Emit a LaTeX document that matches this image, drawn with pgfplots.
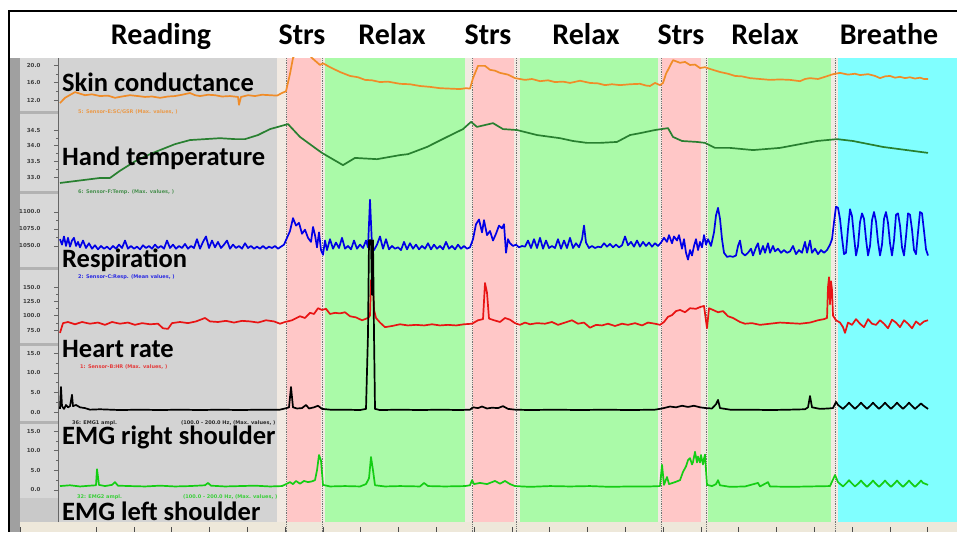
\documentclass[border=0pt]{standalone}
\usepackage{pgfplots}
\pgfplotsset{compat=1.18}
\usepackage{fontspec}
\setmainfont{Carlito}
\newfontfamily\dejavu{DejaVu Sans}

\definecolor{readgray}{RGB}{211,211,211}
\definecolor{strspink}{RGB}{255,199,199}
\definecolor{relaxgreen}{RGB}{170,250,168}
\definecolor{breathecyan}{RGB}{128,255,255}
\definecolor{gapbeige}{RGB}{242,234,226}
\definecolor{stripbeige}{RGB}{238,232,218}
\definecolor{panelgray}{RGB}{216,216,216}
\definecolor{darkstrip}{RGB}{160,160,160}
\definecolor{sepgray}{RGB}{178,178,178}
\definecolor{scorange}{RGB}{240,140,40}
\definecolor{tempgreen}{RGB}{40,128,48}
\definecolor{respblue}{RGB}{0,0,230}
\definecolor{hrred}{RGB}{232,20,20}
\definecolor{emggreen}{RGB}{20,205,20}

\pgfplotsset{
  panel/.style n args={4}{
    at={(58pt,-#1pt)}, anchor=north west, scale only axis,
    width=899pt, height=#2pt, xmin=58, xmax=957, ymin=#3, ymax=#4,
    axis x line=none, axis y line*=left,
    y axis line style={draw=black!60, line width=0.6pt},
    tick align=outside, major tick length=4pt, minor tick length=2pt,
    minor y tick num=1, ytick style={draw=black!60, line width=0.5pt},
    /pgf/number format/assume math mode=true,
    yticklabel style={font=\dejavu\bfseries\fontsize{5.5}{6}\selectfont,
      text=black!75, xshift=-10pt,
      /pgf/number format/.cd, fixed, fixed zerofill, precision=1, 1000 sep={}},
    no markers,
    every axis plot/.append style={line width=1.7pt, line join=round},
  },
}

\begin{document}
\begin{tikzpicture}[x=1pt,y=1pt]
\useasboundingbox (0,0) rectangle (957,-532);

% frame, background regions and separators, in pixel units
\begin{axis}[at={(0pt,0pt)}, anchor=north west, scale only axis,
  width=957pt, height=532pt, xmin=0, xmax=957, ymin=0, ymax=532,
  y dir=reverse, hide axis, clip=false]
\addplot[fill=white, draw=none] coordinates {(0,0) (957,0) (957,532) (0,532)};
\addplot[fill=gapbeige, draw=none] coordinates {(58,58) (957,58) (957,522) (58,522)};
\addplot[fill=readgray, draw=none] coordinates {(58,58) (277,58) (277,522) (58,522)};
\addplot[fill=strspink, draw=none] coordinates {(287,58) (321,58) (321,522) (287,522)};
\addplot[fill=relaxgreen, draw=none] coordinates {(325,58) (465,58) (465,522) (325,522)};
\addplot[fill=strspink, draw=none] coordinates {(473,58) (514,58) (514,522) (473,522)};
\addplot[fill=relaxgreen, draw=none] coordinates {(520,58) (658,58) (658,522) (520,522)};
\addplot[fill=strspink, draw=none] coordinates {(662,58) (701,58) (701,522) (662,522)};
\addplot[fill=relaxgreen, draw=none] coordinates {(708,58) (831,58) (831,522) (708,522)};
\addplot[fill=breathecyan, draw=none] coordinates {(838,58) (957,58) (957,522) (838,522)};
\addplot[fill=stripbeige, draw=none] coordinates {(10,522) (957,522) (957,532) (10,532)};
\addplot[fill=panelgray, draw=none] coordinates {(10,58) (58,58) (58,522) (10,522)};
\addplot[fill=darkstrip, draw=none] coordinates {(10,58) (20,58) (20,532) (10,532)};
\addplot[fill=sepgray!70, draw=none] coordinates {(20,498) (58,498) (58,522) (20,522)};
\pgfplotsinvokeforeach{112,192,268,344,422}{
  \addplot[sepgray, line width=3pt] coordinates {(20,#1) (58,#1)};
}
\pgfplotsinvokeforeach{286,322,472,516,661,706,835}{
  \addplot[black!55, densely dotted, line width=0.8pt] coordinates {(#1,58) (#1,532)};
}
\pgfplotsinvokeforeach{20,96,134,171,209,247,285,323,360,398,436,474,512,549,587,625,663,701,738,776,814,852,890,927}{
  \addplot[black!70, line width=0.6pt] coordinates {(#1,527) (#1,532)};
}
\addplot[black!60, line width=0.7pt] coordinates {(58,58) (58,522)};
\addplot[black, line width=2pt] coordinates {(8,11) (957,11)};
\addplot[black, line width=2.5pt] coordinates {(9,10) (9,532)};
\end{axis}

% Skin conductance
\begin{axis}[panel={58}{55}{9.03}{21.6}, ytick={12,16,20}]
\addplot[scorange] coordinates {
(60,11.3) (65,12.5) (75,13.8) (85,13.1) (92,13.3) (100,12.9) (108,13.0) (115,12.5)
(122,12.8) (130,13.1) (138,12.9) (145,12.7) (152,12.8) (160,12.5) (168,12.8) (175,12.9)
(182,13.2) (190,13.6) (195,13.1) (200,12.9) (208,13.2) (215,13.1) (222,12.8) (230,12.9)
(238,12.7) (239,10.9) (241,12.7) (248,13.1) (255,12.9) (262,13.2) (270,13.1) (277,13.0)
(282,13.6) (286,14.0) (290,18.0) (293,21.6) (298,23.5) (305,23.5) (312,21.6) (316,20.8)
(320,20.0) (323,20.4) (330,19.5) (340,18.4) (350,17.5) (358,17.2) (365,16.6) (372,16.5)
(380,16.1) (388,16.2) (400,15.7) (410,15.6) (420,15.2) (430,15.0) (440,14.7) (450,14.6)
(460,14.5) (466,14.7) (470,14.6) (473,17.0) (478,19.8) (485,19.8) (490,18.9) (495,18.7)
(500,18.2) (508,17.8) (515,17.0) (525,16.6) (532,16.8) (540,16.3) (548,16.5) (555,16.1)
(563,16.2) (570,15.9) (580,16.4) (590,15.9) (598,15.8) (605,15.4) (612,15.6) (620,15.4)
(630,15.6) (640,15.7) (646,15.3) (650,15.2) (655,15.9) (660,15.4) (663,15.9) (666,18.0)
(673,21.1) (680,20.5) (685,20.7) (690,20.0) (695,20.1) (700,19.3) (705,19.5) (710,19.1)
(720,18.4) (728,18.0) (735,17.5) (742,17.4) (750,17.0) (760,16.8) (770,16.6) (780,16.7)
(790,16.6) (800,16.3) (805,16.8) (810,17.0) (818,16.8) (825,17.3) (833,17.9) (840,18.2)
(848,17.8) (855,18.0) (860,17.7) (868,17.9) (875,17.5) (880,17.0) (885,17.4) (890,17.5)
(895,17.1) (900,17.3) (905,17.0) (910,17.2) (915,16.9) (920,17.1) (924,16.8) (928,16.8)};
\end{axis}

% Hand temperature
\begin{axis}[panel={115}{78}{32.49}{34.98}, ytick={33,33.5,34,34.5}]
\addplot[tempgreen] coordinates {
(60,32.81) (75,32.87) (90,32.93) (100,32.97) (110,32.97) (120,33.20) (135,33.50)
(150,33.73) (160,33.86) (175,34.05) (190,34.18) (205,34.21) (220,34.24) (235,34.21)
(245,34.21) (258,34.34) (270,34.53) (288,34.69) (300,34.28) (315,33.93) (322,33.77)
(330,33.62) (343,33.38) (355,33.61) (377,33.57) (400,33.70) (408,33.73) (427,33.96)
(447,34.28) (463,34.53) (471,34.76) (477,34.60) (493,34.72) (503,34.53) (517,34.50)
(537,34.34) (560,34.24) (573,34.15) (587,34.09) (600,34.09) (617,34.12) (630,34.34)
(640,34.40) (655,34.50) (668,34.56) (673,34.28) (682,34.15) (697,34.12) (705,34.09)
(715,33.93) (730,33.93) (753,33.86) (780,33.93) (800,34.05) (817,34.15) (837,34.21)
(853,34.15) (883,33.96) (928,33.77)};
\end{axis}

% Respiration
\begin{axis}[panel={195}{73}{1017.6}{1125}, ytick={1050,1075,1100}]
\addplot[respblue] coordinates {
(60,1060) (62,1052) (64,1064) (66,1050) (68,1062) (70,1049) (72,1058) (74,1062) (76,1050)
(78,1056) (80,1048) (83,1058) (86,1047) (89,1054) (92,1046) (95,1051) (98,1045) (101,1050)
(104,1046) (107,1049) (110,1045) (113,1050) (116,1046) (119,1052) (122,1047) (125,1058)
(128,1046) (131,1050) (134,1046) (137,1049) (140,1045) (143,1051) (146,1047) (149,1050)
(152,1046) (155,1052) (158,1047) (161,1050) (164,1046) (167,1058) (170,1047) (173,1052)
(176,1046) (179,1050) (182,1047) (185,1053) (188,1046) (191,1050) (194,1047) (197,1060)
(200,1046) (203,1056) (206,1064) (209,1047) (212,1058) (215,1048) (218,1056) (221,1047)
(224,1052) (227,1058) (230,1046) (233,1052) (236,1047) (239,1050) (242,1046) (245,1054)
(248,1047) (251,1050) (254,1046) (257,1049) (260,1046) (263,1050) (266,1046) (269,1049)
(272,1047) (275,1050) (278,1046) (281,1049) (284,1052)
(287,1062) (290,1072) (293,1091) (296,1080) (299,1084) (302,1068) (305,1074) (308,1062)
(311,1056) (313,1078) (315,1066) (317,1048) (319,1070) (321,1044) (323,1037) (325,1058)
(327,1044) (330,1060) (333,1046) (336,1055) (339,1047) (342,1062) (345,1046) (348,1050)
(351,1045) (354,1058) (357,1046) (360,1052) (363,1047) (366,1058) (368,1048) (370,1118)
(372,1050) (374,1044) (377,1052) (380,1064) (383,1046) (386,1060) (389,1045) (392,1050)
(395,1046) (398,1048) (401,1044) (404,1056) (407,1045) (410,1054) (413,1046) (416,1052)
(419,1045) (422,1050) (425,1046) (428,1054) (431,1045) (434,1052) (437,1046) (440,1050)
(443,1045) (446,1056) (449,1046) (452,1050) (455,1045) (458,1052) (461,1046) (464,1050)
(467,1046) (470,1048)
(473,1060) (476,1082) (479,1089) (482,1070) (484,1088) (487,1066) (490,1072) (493,1058)
(496,1068) (499,1080) (502,1076) (504,1082) (506,1040) (508,1060) (510,1054) (513,1050)
(516,1052) (519,1048) (522,1050) (525,1049) (528,1058) (531,1047) (534,1060) (537,1047)
(540,1062) (543,1046) (546,1058) (549,1047) (552,1050) (555,1047) (558,1060) (561,1046)
(564,1058) (567,1047) (570,1062) (573,1047) (576,1054) (579,1048) (582,1060) (584,1080)
(586,1055) (589,1047) (592,1050) (595,1047) (598,1049) (601,1048) (604,1054) (607,1049)
(610,1053) (613,1048) (616,1052) (619,1048) (622,1051) (625,1064) (628,1051) (631,1056)
(634,1049) (637,1058) (640,1049) (643,1056) (646,1050) (649,1055) (652,1049) (655,1054)
(658,1050) (661,1055)
(664,1062) (667,1056) (669,1066) (672,1054) (674,1064) (677,1058) (679,1066) (682,1046)
(684,1060) (686,1040) (688,1030) (690,1044) (692,1036) (694,1050) (696,1060) (698,1044)
(700,1056) (702,1048) (704,1066) (706,1052) (708,1060) (711,1050) (714,1070) (716,1095)
(718,1106) (720,1090) (722,1060) (724,1040) (727,1034) (730,1035) (733,1034) (736,1036)
(738,1050) (740,1058) (742,1040) (745,1036) (748,1040) (751,1046) (753,1036) (756,1048)
(758,1054) (760,1038) (763,1050) (765,1040) (768,1054) (770,1040) (773,1050) (775,1042)
(778,1046) (781,1040) (784,1044) (787,1040) (790,1042) (793,1050) (796,1038) (799,1044)
(802,1040) (805,1056) (807,1040) (810,1058) (812,1040) (815,1046) (818,1038) (821,1044)
(824,1040) (827,1044) (830,1052) (832,1060)
(834,1085) (836,1108) (838,1106) (840,1090) (842,1062) (844,1038) (846,1040) (848,1075)
(850,1104) (852,1094) (854,1064) (856,1036) (858,1050) (860,1085) (862,1098) (864,1090)
(866,1060) (868,1036) (870,1050) (872,1088) (874,1100) (876,1086) (878,1056) (880,1036)
(882,1052) (884,1090) (886,1100) (888,1084) (890,1054) (892,1036) (894,1058) (896,1096)
(898,1098) (900,1080) (902,1048) (904,1036) (906,1064) (908,1098) (910,1096) (912,1074)
(914,1044) (916,1038) (918,1070) (920,1100) (922,1098) (924,1072) (926,1045) (928,1036)};
\end{axis}

% Heart rate
\begin{axis}[panel={270}{74}{50.6}{179.7}, ytick={75,100,125,150}, clip=false]
\addplot[hrred] coordinates {
(60,70) (63,87) (68,89) (75,85) (82,89) (90,86) (98,88) (105,84) (112,89) (120,86)
(128,88) (135,84) (142,87) (150,85) (158,86) (163,78) (168,77) (172,87) (180,89) (188,87)
(196,90) (205,96) (210,90) (218,89) (226,91) (234,88) (242,91) (250,90) (258,88) (266,92)
(274,90) (280,86) (285,89) (292,92) (300,99) (305,96) (310,105) (314,103) (318,113)
(322,110) (326,112) (330,103) (335,105) (340,104) (345,106) (350,99) (356,97) (362,92)
(368,96) (370,100) (371,162) (373,150) (374,110) (376,96) (380,88) (385,80) (392,82)
(400,85) (408,83) (416,84) (424,83) (432,85) (440,83) (448,84) (456,83) (464,85) (472,86)
(478,92) (483,94) (485,157) (487,140) (489,95) (494,92) (500,89) (505,96) (510,93)
(515,87) (520,84) (525,88) (530,85) (537,87) (545,86) (552,89) (558,84) (565,88) (572,92)
(578,86) (584,88) (590,79) (596,84) (602,83) (608,86) (615,82) (622,86) (628,84) (635,87)
(642,83) (648,88) (655,86) (660,84) (664,89) (668,98) (672,101) (676,108) (680,110)
(685,106) (690,113) (696,112) (700,115) (704,117) (707,78) (709,113) (713,110) (718,106)
(723,108) (728,99) (733,96) (740,89) (745,86) (752,87) (760,84) (770,86) (780,88)
(790,87) (800,86) (810,88) (818,92) (824,94) (827,96) (828,150) (829,167) (830,120)
(831,160) (832,145) (833,100) (836,92) (840,88) (843,80) (845,70) (848,88) (852,84)
(856,94) (860,86) (864,80) (868,94) (872,86) (876,84) (880,92) (884,86) (888,78) (892,93)
(896,88) (900,80) (904,92) (908,86) (912,78) (916,90) (920,84) (924,90) (928,92)};
\end{axis}

% EMG right shoulder
\begin{axis}[panel={346}{76}{-2.56}{16.9}, ytick={0,5,10,15}, clip=false]
\addplot[black] coordinates {
(60,0.8) (61,6.4) (62,1.5) (64,0.8) (66,1.8) (68,1.2) (70,1.5) (72,4.4) (73,1.5) (76,1.8)
(80,1.2) (85,1.0) (90,0.6) (100,0.7) (120,0.5) (140,0.6) (160,0.5) (180,0.6) (200,0.5)
(220,0.6) (240,0.5) (260,0.6) (280,0.6) (285,0.9) (289,1.2) (291,6.4) (293,1.2) (297,0.9)
(302,1.0) (306,1.8) (309,0.9) (314,1.2) (318,1.6) (322,0.8) (330,0.6) (345,0.6) (360,0.5)
(366,0.8) (368,20) (369,44) (371,44) (372,30) (373,44) (374,20) (375,0.8) (380,0.5)
(400,0.6) (420,0.5) (440,0.6) (460,0.5) (470,0.6) (473,1.2) (478,1.0) (482,1.4) (487,0.9)
(492,1.1) (498,1.0) (503,1.5) (508,0.8) (515,0.6) (530,0.5) (555,0.6) (580,0.5) (605,0.6)
(630,0.5) (655,0.6) (662,0.9) (670,1.4) (676,1.2) (682,1.6) (688,1.3) (694,1.6) (700,1.2)
(706,1.0) (712,0.9) (716,2.0) (718,3.1) (720,1.0) (730,0.6) (750,0.6) (770,0.5) (790,0.6)
(805,0.7) (808,1.2) (810,4.1) (812,1.2) (820,0.8) (828,0.9) (833,1.0) (836,2.6) (838,1.8)
(843,0.8) (847,1.8) (849,2.4) (851,1.8) (855,0.8) (859,1.8) (861,2.4) (863,1.8) (867,0.8)
(871,1.8) (873,2.4) (875,1.8) (879,0.8) (883,1.8) (885,2.4) (887,1.8) (891,0.8) (895,1.8)
(897,2.4) (899,1.8) (903,0.8) (907,1.8) (909,2.4) (911,1.8) (915,0.8) (919,1.7) (921,2.2)
(923,1.7) (928,0.8)};
\end{axis}

% EMG left shoulder
\begin{axis}[panel={424}{98}{-8.14}{16.78}, ytick={0,5,10,15}]
\addplot[emggreen] coordinates {
(60,1.0) (70,1.2) (80,0.9) (90,1.1) (96,1.2) (97,5.3) (99,1.3) (105,1.0) (112,1.3)
(115,2.0) (118,1.1) (130,1.0) (145,0.9) (160,1.1) (175,0.9) (190,1.0) (205,1.2) (208,1.8)
(211,1.1) (225,0.9) (240,1.0) (255,1.1) (270,0.9) (282,1.0) (286,1.5) (290,2.0) (293,1.5)
(296,2.3) (300,1.6) (304,2.3) (308,2.0) (312,2.2) (315,2.5) (317,5.0) (319,8.9) (321,7.5)
(323,1.3) (330,0.9) (345,1.0) (360,0.9) (366,1.5) (369,3.0) (371,8.4) (373,5.0) (375,1.2)
(385,0.9) (400,1.0) (420,0.9) (424,1.8) (428,1.0) (445,0.9) (465,1.0) (470,1.2) (472,2.5)
(474,1.5) (480,1.8) (487,1.5) (495,2.3) (500,1.6) (505,2.3) (510,1.5) (515,1.0) (530,0.8)
(550,1.0) (570,0.9) (590,1.0) (610,0.8) (630,0.9) (650,0.9) (660,1.0) (662,6.4) (664,1.3)
(667,3.3) (669,1.5) (675,2.0) (680,2.5) (683,4.6) (686,6.0) (688,7.6) (690,8.1) (692,6.5)
(693,7.1) (695,9.7) (697,7.0) (698,8.5) (700,7.0) (701,8.9) (703,6.5) (704,8.0) (705,9.0)
(706,5.0) (707,1.3) (712,1.0) (716,1.5) (718,2.5) (720,1.2) (730,0.8) (745,0.9) (758,1.8)
(760,0.9) (768,2.0) (770,0.9) (790,0.8) (810,0.9) (830,1.0) (835,3.8) (838,2.0) (843,0.9)
(847,1.9) (849,2.5) (851,1.9) (855,0.9) (859,1.8) (861,2.4) (863,1.8) (867,0.8) (871,1.8)
(873,2.4) (875,1.8) (879,0.8) (883,1.8) (885,2.4) (887,1.8) (891,0.8) (895,1.8) (897,2.4)
(899,1.8) (903,0.8) (907,1.8) (909,2.4) (911,1.8) (915,0.8) (919,1.8) (921,2.4) (923,1.8)
(928,1.3)};
\end{axis}

% phase names
\begin{scope}[every node/.style={font=\bfseries\fontsize{30}{32}\selectfont, anchor=base, inner sep=0pt}]
\node at (161,-45) {Reading};
\node at (302,-45) {Strs};
\node at (392,-45) {Relax};
\node at (488,-45) {Strs};
\node at (586,-45) {Relax};
\node at (681,-45) {Strs};
\node at (765,-45) {Relax};
\node at (889,-45) {Breathe};
\end{scope}

% channel captions
\begin{scope}[every node/.style={font=\dejavu\bfseries\fontsize{5}{6}\selectfont, anchor=west, inner sep=0pt, opacity=0.8}]
\node[text=scorange] at (78,-112) {5: Sensor-E:SC/GSR (Max. values, )};
\node[text=tempgreen] at (78,-192) {6: Sensor-F:Temp. (Max. values, )};
\node[text=respblue] at (78,-277) {2: Sensor-C:Resp. (Mean values, )};
\node[text=hrred] at (80,-367) {1: Sensor-B:HR (Max. values, )};
\node[text=black] at (72,-423) {36: EMG1 ampl.};
\node[text=black] at (181,-423) {(100.0 - 200.0 Hz, (Max. values, )};
\node[text=emggreen] at (77,-497) {32: EMG2 ampl.};
\node[text=emggreen] at (183,-497) {(100.0 - 200.0 Hz, (Max. values, )};
\end{scope}

\begin{scope}[every node/.style={font=\bfseries\fontsize{26.5}{28}\selectfont, anchor=base west, inner sep=0pt}]
\node at (62,-92) {Skin conductance};
\node at (62,-165) {Hand temperature};
\node at (62,-267) {Respiration};
\node at (62,-357) {Heart rate};
\node at (62,-444) {EMG right shoulder};
\node at (62,-520) {EMG left shoulder};
\end{scope}
\end{tikzpicture}
\end{document}
